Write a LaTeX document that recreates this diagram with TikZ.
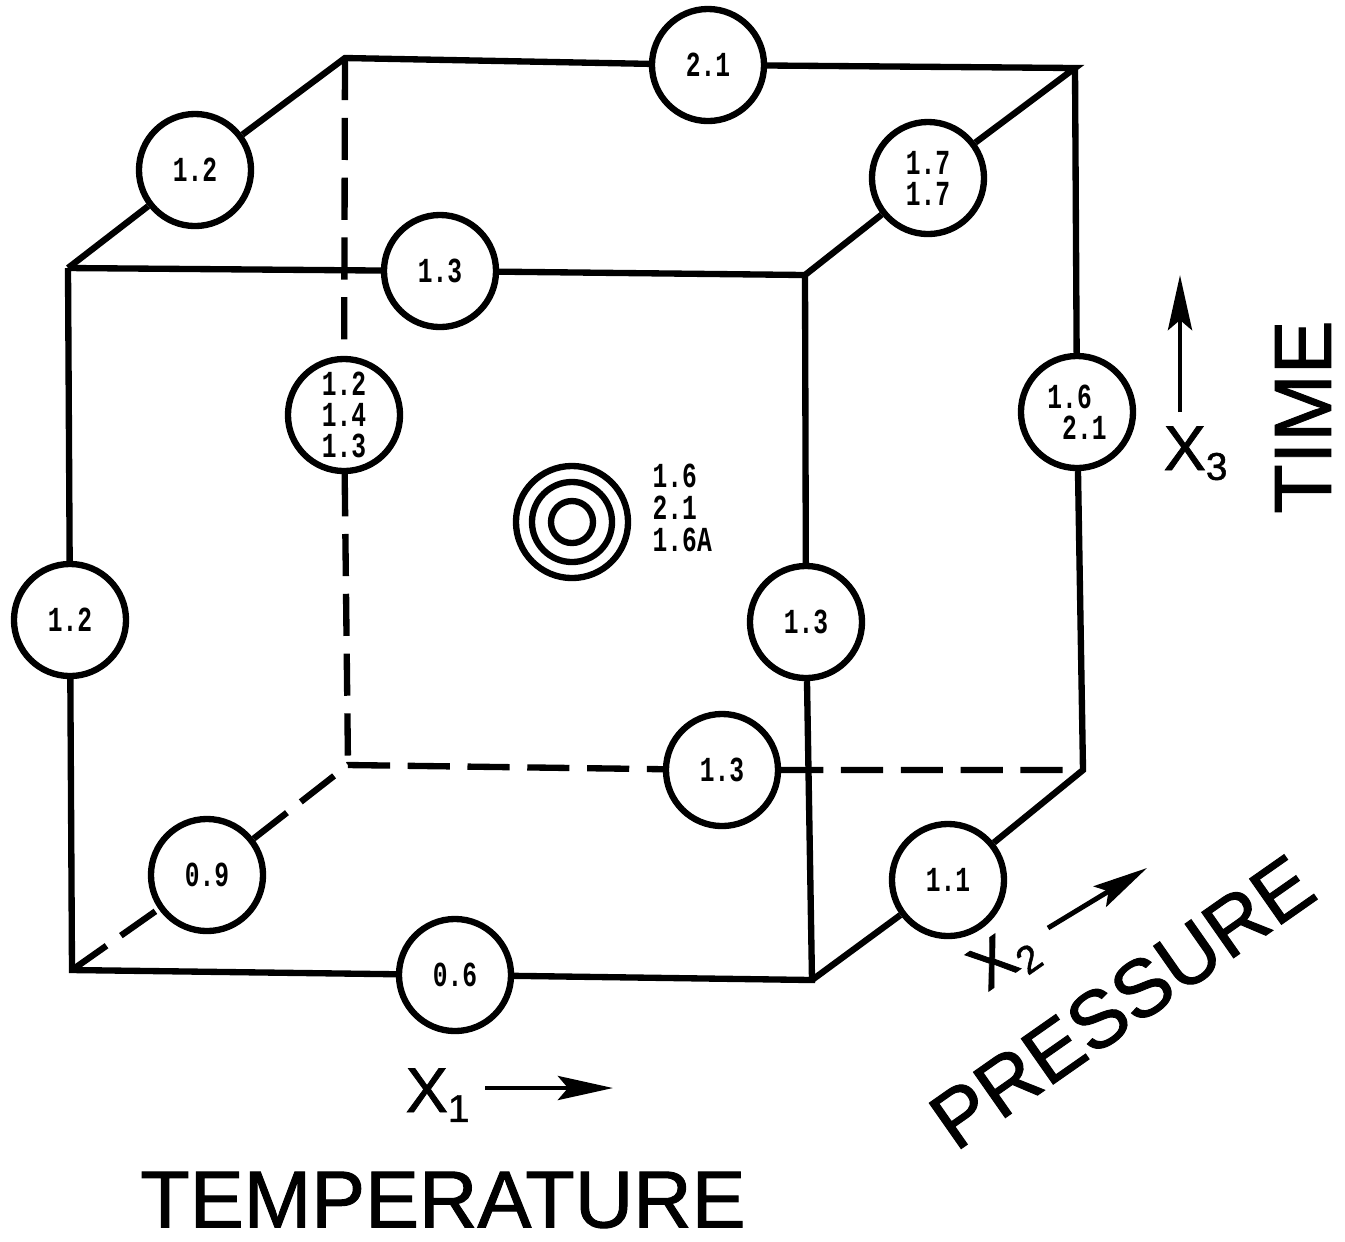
\documentclass[tikz,border=0pt]{standalone}
\usepackage{fontspec}
\setsansfont{Liberation Sans}
\setmonofont[FakeStretch=0.7]{Liberation Mono}
\newfontfamily\lblfont[FakeBold=1.2]{Liberation Sans}
\usetikzlibrary{arrows.meta}

\begin{document}
\begin{tikzpicture}[x=0.01cm,y=-0.01cm,
  edge/.style={line width=1.8pt},
  hidden/.style={edge, dash pattern=on 12pt off 5pt},
  val/.style={circle, draw, line width=1.8pt, minimum size=1.12cm, inner sep=0pt, fill=white,
    align=center, font=\ttfamily\bfseries\fontsize{10}{8.8}\selectfont},
  ring/.style={circle, draw, line width=1.8pt, inner sep=0pt},
  axis/.style={font=\lblfont\fontsize{23}{23}\selectfont},
  sub/.style={font=\lblfont\fontsize{18}{18}\selectfont, inner sep=0pt},
  dir/.style={line width=1.4pt, -{Stealth[length=5.5mm,width=2.4mm,inset=1mm]}}]
  \useasboundingbox (0,0) rectangle (1345,1241);

  % cube corners
  \coordinate (FTL) at (68,268);
  \coordinate (FTR) at (805,275);
  \coordinate (FBL) at (72,970);
  \coordinate (FBR) at (812,980);
  \coordinate (BTL) at (345,58);
  \coordinate (BTR) at (1075,68);
  \coordinate (BBL) at (348,765);
  \coordinate (BBR) at (1083,770);

  % values on the edges
  \node[val] (tb) at (708,65) {2.1};
  \node[val] (tl) at (195,170) {1.2};
  \node[val] (tr) at (928,178) {1.7\\1.7};
  \node[val] (tf) at (440,271) {1.3};
  \node[val] (bl) at (344,415) {1.2\\1.4\\1.3};
  \node[val] (fl) at (70,620) {1.2};
  \node[val] (fr) at (806,622) {1.3};
  \node[val, align=left] (br) at (1077,412) {1.6\\\hphantom{0}2.1};
  \node[val] (bb) at (722,770) {1.3};
  \node[val] (dl) at (207,875) {0.9};
  \node[val] (fb) at (455,975) {0.6};
  \node[val] (dr) at (948,880) {1.1};

  % hidden edges
  \draw[hidden] (BTL) -- (bl) -- (BBL);
  \draw[hidden] (FBL) -- (dl) -- (BBL) -- (bb) -- (BBR);

  % visible edges
  \draw[edge] (FTL) -- (tf) -- (FTR) -- (fr) -- (FBR) -- (fb) -- (FBL) -- (fl) -- (FTL);
  \draw[edge] (FTL) -- (tl) -- (BTL) -- (tb) -- (BTR) -- (tr) -- (FTR);
  \draw[edge] (BTR) -- (br) -- (BBR) -- (dr) -- (FBR);

  % centre point
  \node[ring, minimum size=1.12cm] (ringo) at (572,522) {};
  \node[ring, minimum size=0.8cm] (ringm) at (ringo) {};
  \node[ring, minimum size=0.42cm] (ringi) at (ringo) {};
  \node[anchor=west, align=left, inner sep=0pt, font=\ttfamily\bfseries\fontsize{10}{9}\selectfont] (cenval) at (652,508) {1.6\\2.1\\1.6A};

  % axes
  \node[sub, anchor=base west] (x1) at (405,1112) {X\raisebox{-2.8pt}{\fontsize{11}{11}\selectfont 1}};
  \coordinate (x1a) at (485,1088);
  \coordinate (x1b) at (613,1088);
  \draw[dir] (x1a) -- (x1b);

  \node[sub, rotate=35] (x2) at (1004,960) {X\raisebox{-2.8pt}{\fontsize{11}{11}\selectfont 2}};
  \coordinate (x2a) at (1048,928);
  \coordinate (x2b) at (1147,868);
  \draw[dir] (x2a) -- (x2b);

  \node[sub, anchor=base west] (x3) at (1163,470) {X\raisebox{-2.8pt}{\fontsize{11}{11}\selectfont 3}};
  \coordinate (x3a) at (1180,412);
  \coordinate (x3b) at (1180,275);
  \draw[dir] (x3a) -- (x3b);

  \node[axis] (temp) at (443,1200) {TEMPERATURE};
  \node[axis, rotate=90] (time) at (1303,417) {TIME};
  \node[axis, rotate=35] (pres) at (1122,1002) {PRESSURE};
\end{tikzpicture}
\end{document}
